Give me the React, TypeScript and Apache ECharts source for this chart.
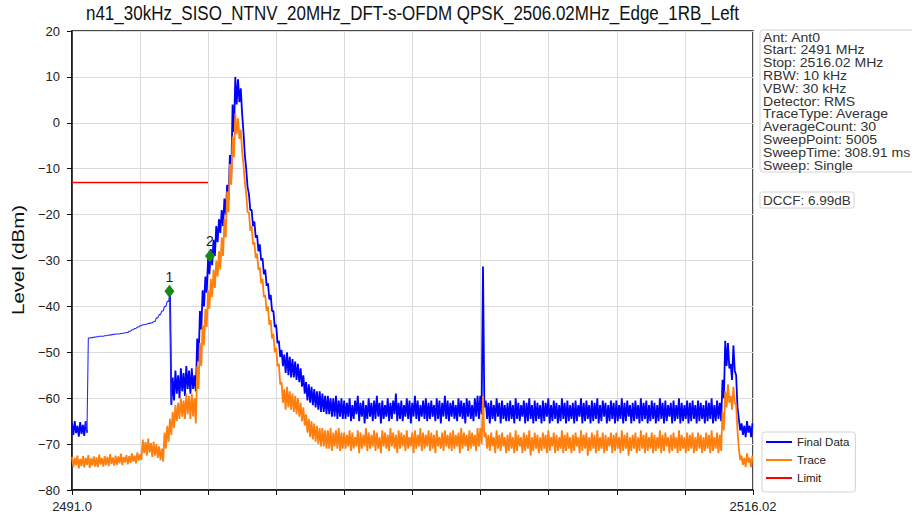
import React, { useEffect, useRef } from "react";
import * as echarts from "echarts";

const TITLE = "n41_30kHz_SISO_NTNV_20MHz_DFT-s-OFDM QPSK_2506.02MHz_Edge_1RB_Left";
const Y_NAME = "Level (dBm)";
const START_MHZ = 2491.0;
const STOP_MHZ = 2516.02;
const STEP_MHZ = 0.1;
const X_TICK_STEP_MHZ = 2.502;
const X_TICK_LABELS = ["2491.0", "2516.02"];
const Y_TICKS = [-80, -70, -60, -50, -40, -30, -20, -10, 0, 10, 20];

// Final Data (blue): upper / lower edge of the trace in each 0.1 MHz bin from 2491.0 MHz
const FINAL_MAX = [
  -65.5, -65.0, -66.0, -65.2, -65.8, -65.0, -46.9, -46.8, -46.7, -46.6,
  -46.5, -46.5, -46.4, -46.3, -46.2, -46.1, -46.0, -46.0, -45.9, -45.8,
  -45.7, -45.4, -45.1, -44.8, -44.5, -44.2, -44.0, -43.9, -43.7, -43.6,
  -43.3, -42.5, -41.8, -41.0, -40.0, -38.9, -36.7, -55.5, -54.0, -55.0,
  -53.5, -54.5, -53.0, -54.0, -53.5, -55.0, -47.0, -41.0, -36.5, -33.5,
  -29.5, -27.5, -25.5, -22.5, -21.0, -19.0, -16.5, -13.5, -7.0, 4.0,
  10.0, 9.5, 7.5, -2.0, -10.0, -15.5, -19.0, -21.5, -24.5, -26.5,
  -29.5, -32.0, -35.0, -37.5, -41.0, -44.0, -47.5, -49.5, -50.5, -50.0,
  -51.0, -51.5, -52.0, -52.5, -53.5, -55.0, -56.5, -57.0, -57.5, -58.0,
  -58.5, -58.5, -59.0, -59.5, -59.5, -60.0, -60.0, -59.5, -60.5, -60.0,
  -60.5, -61.0, -60.0, -61.5, -60.5, -59.5, -61.0, -60.5, -61.5, -60.0,
  -61.0, -60.5, -59.5, -61.0, -60.5, -61.5, -60.0, -61.0, -60.5, -59.0,
  -61.0, -60.5, -61.5, -60.0, -60.5, -61.0, -59.5, -60.5, -61.5, -60.5,
  -60.0, -61.0, -60.5, -61.5, -60.0, -60.5, -61.0, -59.5, -60.5, -61.0,
  -60.5, -61.5, -60.0, -60.5, -61.0, -60.0, -60.5, -61.5, -60.0, -59.5,
  -59.5, -31.3, -60.5, -61.0, -60.5, -61.5, -60.0, -61.0, -60.5, -61.5,
  -61.0, -60.5, -61.5, -60.0, -61.0, -61.5, -60.5, -61.0, -60.0, -61.5,
  -60.5, -61.0, -61.5, -60.5, -61.0, -60.0, -61.5, -60.5, -61.0, -61.5,
  -60.0, -61.0, -60.5, -61.5, -61.0, -60.5, -61.5, -60.0, -61.0, -60.5,
  -61.5, -60.5, -61.0, -60.0, -61.5, -60.5, -61.0, -61.5, -60.5, -61.0,
  -60.5, -61.5, -60.0, -61.0, -60.5, -61.5, -61.0, -60.5, -61.5, -60.0,
  -61.0, -60.5, -61.5, -60.5, -61.0, -61.5, -60.0, -61.0, -60.5, -61.5,
  -61.0, -60.5, -61.5, -60.0, -61.0, -61.5, -60.5, -61.0, -60.5, -61.5,
  -60.5, -61.0, -61.5, -60.5, -61.0, -60.0, -61.5, -60.5, -61.0, -56.0,
  -47.5, -48.0, -52.5, -48.5, -55.0, -64.5, -65.5, -66.0, -65.0, -66.0,
  -65.5,
];
const FINAL_MIN = [
  -68.0, -67.6, -68.4, -67.8, -68.2, -67.5, -46.9, -46.8, -46.7, -46.6,
  -46.5, -46.5, -46.4, -46.3, -46.2, -46.1, -46.0, -46.0, -45.9, -45.8,
  -45.7, -45.4, -45.1, -44.8, -44.5, -44.2, -44.0, -43.9, -43.7, -43.6,
  -43.3, -42.5, -41.8, -41.0, -40.0, -38.9, -61.5, -60.5, -59.0, -60.0,
  -58.5, -59.5, -58.0, -59.0, -58.0, -58.5, -52.0, -45.0, -40.0, -37.0,
  -33.0, -31.0, -29.0, -26.0, -24.0, -22.5, -20.0, -17.0, -12.0, -2.0,
  4.0, 4.5, 2.0, -7.0, -14.0, -19.0, -22.5, -25.0, -28.0, -30.0,
  -33.0, -35.5, -38.5, -41.0, -44.5, -48.0, -51.0, -53.0, -54.5, -55.0,
  -55.5, -55.5, -56.0, -56.5, -57.5, -59.0, -60.5, -61.0, -61.5, -62.0,
  -62.5, -63.0, -63.0, -63.5, -63.5, -64.0, -64.0, -64.5, -64.0, -64.5,
  -64.5, -64.0, -65.0, -64.5, -63.5, -65.0, -64.0, -65.5, -64.5, -64.0,
  -65.0, -64.5, -64.0, -65.5, -64.5, -64.0, -65.0, -64.5, -63.5, -65.0,
  -64.5, -65.0, -64.0, -64.5, -65.5, -64.0, -64.5, -65.0, -64.0, -64.5,
  -65.0, -64.5, -64.0, -65.0, -64.5, -65.5, -64.0, -64.5, -65.0, -64.0,
  -64.5, -65.0, -64.0, -64.5, -65.5, -64.0, -64.5, -65.0, -64.0, -64.5,
  -63.5, -62.0, -64.5, -65.5, -64.5, -65.0, -64.0, -65.5, -64.5, -65.0,
  -65.0, -64.5, -65.5, -64.5, -65.0, -64.0, -65.5, -65.0, -64.5, -65.5,
  -65.0, -64.5, -65.5, -65.0, -64.0, -65.5, -65.0, -64.5, -65.5, -65.0,
  -64.5, -65.5, -65.0, -64.5, -65.5, -65.0, -64.0, -65.5, -65.0, -64.5,
  -65.5, -65.0, -64.5, -65.5, -65.0, -64.0, -65.5, -65.0, -64.5, -65.5,
  -65.0, -64.5, -65.5, -65.0, -64.0, -65.5, -65.0, -64.5, -65.5, -65.0,
  -64.5, -65.5, -65.0, -64.5, -65.5, -65.0, -64.5, -65.5, -65.0, -64.0,
  -65.5, -65.0, -64.5, -65.5, -65.0, -64.5, -65.5, -65.0, -64.5, -65.5,
  -65.0, -64.5, -65.5, -65.0, -64.5, -65.5, -65.0, -64.5, -65.0, -60.0,
  -53.0, -53.5, -56.0, -54.0, -62.0, -67.0, -68.0, -68.5, -67.5, -68.5,
  -68.0,
];

// Trace (orange): upper / lower edge in each 0.1 MHz bin
const TRACE_MAX = [
  -72.8, -73.0, -72.5, -73.2, -72.6, -73.0, -72.4, -73.1, -72.7, -72.9,
  -72.3, -73.0, -72.6, -72.8, -72.2, -72.9, -72.5, -72.7, -72.1, -72.8,
  -72.4, -72.6, -72.0, -72.5, -71.8, -72.2, -69.0, -69.5, -68.8, -69.8,
  -69.5, -70.0, -70.5, -71.0, -67.5, -66.0, -64.5, -63.0, -61.5, -61.0,
  -60.0, -60.5, -59.0, -59.5, -59.0, -60.0, -53.0, -48.0, -44.0, -40.5,
  -36.5, -34.0, -32.0, -30.0, -28.0, -25.0, -21.0, -15.0, -9.0, -3.0,
  2.0, 1.0, -1.5, -9.0, -15.5, -19.5, -22.5, -26.0, -28.5, -31.5,
  -34.0, -37.5, -40.0, -43.0, -46.0, -49.0, -52.5, -56.5, -58.0, -57.5,
  -58.5, -59.0, -59.5, -60.0, -61.0, -62.0, -63.5, -64.5, -65.0, -65.5,
  -66.0, -66.5, -66.5, -67.0, -67.0, -66.5, -67.5, -67.0, -66.5, -67.5,
  -67.5, -68.0, -67.0, -67.5, -68.5, -67.0, -67.5, -68.0, -66.5, -67.5,
  -68.0, -67.0, -67.5, -68.5, -67.0, -67.5, -68.0, -66.5, -67.5, -68.0,
  -67.0, -67.5, -68.0, -67.0, -68.5, -67.5, -67.0, -68.0, -66.5, -67.5,
  -68.0, -67.0, -67.5, -68.0, -67.0, -68.5, -67.5, -67.0, -68.0, -67.5,
  -67.0, -68.0, -67.5, -66.5, -67.5, -68.0, -67.0, -67.5, -68.0, -66.5,
  -66.5, -59.5, -67.5, -68.0, -67.5, -68.5, -67.0, -68.0, -67.5, -68.5,
  -68.0, -67.5, -68.5, -67.0, -68.0, -68.5, -67.5, -68.0, -67.0, -68.5,
  -67.5, -68.0, -68.5, -67.5, -68.0, -67.0, -68.5, -67.5, -68.0, -68.5,
  -67.0, -68.0, -67.5, -68.5, -68.0, -67.5, -68.5, -67.0, -68.0, -67.5,
  -68.5, -67.5, -68.0, -67.0, -68.5, -67.5, -68.0, -68.5, -67.5, -68.0,
  -67.5, -68.5, -67.0, -68.0, -67.5, -68.5, -68.0, -67.5, -68.5, -67.0,
  -68.0, -67.5, -68.5, -67.5, -68.0, -68.5, -67.0, -68.0, -67.5, -68.5,
  -68.0, -67.5, -68.5, -67.0, -68.0, -68.5, -67.5, -68.0, -67.5, -68.5,
  -67.5, -68.0, -68.5, -67.5, -68.0, -67.0, -68.5, -67.5, -68.0, -63.0,
  -58.5, -57.0, -59.5, -57.5, -61.5, -71.0, -72.5, -73.0, -72.0, -73.0,
  -72.5,
];
const TRACE_MIN = [
  -75.0, -74.6, -75.3, -74.8, -75.1, -74.5, -75.2, -74.7, -74.9, -75.0,
  -74.4, -74.9, -74.6, -74.8, -74.3, -74.7, -74.5, -74.2, -74.6, -74.0,
  -74.4, -74.1, -73.8, -74.2, -73.6, -73.5, -72.0, -72.5, -71.8, -72.8,
  -72.5, -73.0, -73.5, -73.8, -71.0, -69.5, -68.0, -66.5, -65.0, -64.5,
  -64.0, -64.5, -63.5, -64.5, -64.0, -65.5, -58.0, -53.0, -48.5, -44.5,
  -40.5, -38.0, -36.0, -33.5, -32.0, -29.0, -25.0, -19.5, -13.5, -7.5,
  -2.5, -3.5, -6.0, -13.0, -19.5, -23.5, -26.5, -29.5, -32.0, -35.0,
  -38.0, -41.0, -44.0, -47.0, -50.0, -53.0, -57.0, -61.0, -62.5, -62.0,
  -62.5, -63.0, -63.5, -64.0, -65.0, -66.0, -67.5, -68.5, -69.0, -69.5,
  -70.0, -70.5, -70.5, -71.0, -71.0, -71.5, -70.5, -71.0, -71.5, -71.0,
  -71.0, -70.5, -71.5, -71.0, -70.5, -72.0, -71.0, -70.5, -71.5, -71.0,
  -70.5, -71.5, -71.0, -72.0, -70.5, -71.0, -71.5, -70.5, -71.0, -72.0,
  -71.0, -70.5, -71.5, -71.0, -70.5, -72.0, -71.0, -70.5, -71.5, -71.0,
  -70.5, -71.5, -71.0, -72.0, -70.5, -71.0, -71.5, -70.5, -71.0, -71.5,
  -71.0, -70.5, -72.0, -71.0, -70.5, -71.5, -71.0, -70.5, -71.5, -70.5,
  -70.0, -68.5, -71.0, -71.5, -70.5, -72.0, -71.0, -71.5, -70.5, -72.0,
  -71.5, -71.0, -72.0, -71.5, -70.5, -72.0, -71.5, -71.0, -72.5, -71.5,
  -71.0, -72.0, -71.5, -71.0, -72.0, -71.5, -70.5, -72.0, -71.5, -71.0,
  -72.0, -71.5, -71.0, -72.0, -71.5, -70.5, -72.0, -71.5, -71.0, -72.5,
  -71.5, -71.0, -72.0, -71.5, -71.0, -72.0, -71.5, -70.5, -72.0, -71.5,
  -71.0, -72.0, -71.5, -71.0, -72.5, -71.5, -71.0, -72.0, -71.5, -71.0,
  -72.0, -71.5, -71.0, -72.0, -71.5, -71.0, -72.0, -71.5, -70.5, -72.0,
  -71.5, -71.0, -72.0, -71.5, -71.0, -72.0, -71.5, -71.0, -72.0, -71.5,
  -71.0, -72.0, -71.5, -71.0, -72.0, -71.5, -71.0, -72.0, -71.5, -67.0,
  -62.0, -61.0, -62.5, -61.0, -67.0, -73.5, -74.5, -75.0, -74.0, -75.0,
  -74.5,
];

const LIMIT_FREQS = [2491.0, 2496.0];
const LIMIT_LEVELS = [-13, -13];

const MARKER_FREQS = [2494.58, 2496.07];
const MARKER_LEVELS = [-36.7, -29.0];
const MARKER_LABELS = ["1", "2"];

const INFO_LINES = [
  "Ant: Ant0",
  "Start: 2491 MHz",
  "Stop: 2516.02 MHz",
  "RBW: 10 kHz",
  "VBW: 30 kHz",
  "Detector: RMS",
  "TraceType: Average",
  "AverageCount: 30",
  "SweepPoint: 5005",
  "SweepTime: 308.91 ms",
  "Sweep: Single",
];
const DCCF_TEXT = "DCCF: 6.99dB";

const FONT = "'Liberation Sans', Arial, Helvetica, sans-serif";

// Each bin drawn as its upper edge at the bin start and its lower edge half a bin later.
// keep(i) decides which bins a series draws (others become gaps).
function envelope(hi: number[], lo: number[], keep: (i: number) => boolean) {
  const pts: (number[] | null)[] = [];
  hi.forEach((h, i) => {
    const k = keep(i);
    pts.push(k ? [i * STEP_MHZ, h] : null);
    if (i < hi.length - 1) pts.push(k ? [i * STEP_MHZ + STEP_MHZ / 2, lo[i]] : null);
  });
  return pts.map((p) => (p ? p : "-"));
}

export default function App() {
  const ref = useRef<HTMLDivElement>(null);

  useEffect(() => {
    if (!ref.current) return;
    const chart = echarts.init(ref.current, null, { renderer: "svg" });
    const span = STOP_MHZ - START_MHZ;

    // bins where the blue trace is a single smooth value (drawn thin, as in the reference)
    const smooth = (i: number) => i >= 0 && i < FINAL_MAX.length && FINAL_MAX[i] === FINAL_MIN[i];
    const nearSmooth = (i: number) => smooth(i) || smooth(i - 1) || smooth(i + 1);

    const option: any = {
      animation: false,
      backgroundColor: "#ffffff",
      textStyle: { fontFamily: FONT },
      grid: {
        left: 72,
        right: 159,
        top: 31,
        bottom: 27,
        show: true,
        borderColor: "#111",
        borderWidth: 1.5,
        containLabel: false,
      },
      legend: {
        data: ["Final Data", "Trace", "Limit"],
        orient: "vertical",
        left: 762,
        top: 432,
        icon: "rect",
        itemWidth: 26,
        itemHeight: 2,
        itemGap: 6,
        padding: [4, 6, 8, 4],
        backgroundColor: "#fff",
        borderColor: "#d4d4d4",
        borderWidth: 1,
        borderRadius: 3,
        selectedMode: false,
        textStyle: { fontSize: 11.5, color: "#222", fontFamily: FONT },
      },
      xAxis: {
        type: "value",
        min: 0,
        max: span,
        interval: X_TICK_STEP_MHZ,
        axisLine: { show: true, onZero: false, lineStyle: { color: "#111", width: 1.5 } },
        axisTick: { show: true, length: 5, lineStyle: { color: "#111", width: 1 } },
        axisLabel: {
          fontSize: 13,
          color: "#222",
          margin: 10,
          fontFamily: FONT,
          showMinLabel: true,
          showMaxLabel: true,
          formatter: (v: number) => {
            if (Math.abs(v) < 1e-6) return X_TICK_LABELS[0];
            if (Math.abs(v - span) < 1e-6) return X_TICK_LABELS[1];
            return "";
          },
        },
        splitLine: { show: true, lineStyle: { color: "#dcdcdc", width: 1 } },
      },
      yAxis: {
        type: "value",
        min: Y_TICKS[0],
        max: Y_TICKS[Y_TICKS.length - 1],
        interval: Y_TICKS[1] - Y_TICKS[0],
        axisLine: { show: true, onZero: false, lineStyle: { color: "#111", width: 1.5 } },
        axisTick: { show: true, length: 5, lineStyle: { color: "#111", width: 1 } },
        axisLabel: {
          fontSize: 13,
          color: "#222",
          margin: 12,
          fontFamily: FONT,
          formatter: (v: number) => (v < 0 ? "\u2212" + Math.abs(v) : String(v)),
        },
        splitLine: { show: true, lineStyle: { color: "#dcdcdc", width: 1 } },
      },
      series: [
        {
          name: "Final Data",
          type: "line",
          data: envelope(FINAL_MAX, FINAL_MIN, (i) => !smooth(i)),
          symbol: "none",
          silent: true,
          connectNulls: false,
          lineStyle: { color: "#0000ff", width: 1.8 },
          itemStyle: { color: "#0000ff" },
          z: 2,
        },
        {
          name: "Final Data",
          type: "line",
          data: envelope(FINAL_MAX, FINAL_MIN, nearSmooth),
          symbol: "none",
          silent: true,
          connectNulls: false,
          lineStyle: { color: "#2a2aff", width: 1.1 },
          itemStyle: { color: "#0000ff" },
          z: 2,
        },
        {
          name: "Trace",
          type: "line",
          data: envelope(TRACE_MAX, TRACE_MIN, () => true),
          symbol: "none",
          silent: true,
          lineStyle: { color: "#ff7f0e", width: 1.8 },
          itemStyle: { color: "#ff7f0e" },
          z: 3,
        },
        {
          name: "Limit",
          type: "line",
          data: LIMIT_FREQS.map((f, i) => [f - START_MHZ, LIMIT_LEVELS[i]]),
          symbol: "none",
          silent: true,
          lineStyle: { color: "#ff0000", width: 1.6 },
          itemStyle: { color: "#ff0000" },
          z: 4,
        },
        {
          name: "Markers",
          type: "scatter",
          data: MARKER_FREQS.map((f, i) => [f - START_MHZ, MARKER_LEVELS[i]]),
          symbol: "diamond",
          symbolSize: [10, 13],
          silent: true,
          itemStyle: { color: "#138a13", opacity: 1 },
          label: {
            show: true,
            position: "top",
            distance: 1,
            fontSize: 14,
            color: "#222",
            fontFamily: FONT,
            formatter: (p: any) => MARKER_LABELS[p.dataIndex],
          },
          z: 5,
        },
      ],
      graphic: [
        {
          type: "text",
          x: 412.5,
          y: 13,
          scaleY: 1.15,
          style: {
            text: TITLE,
            fontSize: 17,
            fontFamily: FONT,
            fill: "#111",
            align: "center",
            verticalAlign: "middle",
          },
        },
        {
          type: "text",
          x: 18,
          y: 260,
          rotation: Math.PI / 2,
          scaleX: 1.2,
          style: {
            text: Y_NAME,
            fontSize: 17,
            fontFamily: FONT,
            fill: "#111",
            align: "center",
            verticalAlign: "middle",
          },
        },
        {
          type: "rect",
          shape: { x: 760, y: 30, width: 170, height: 142, r: 3 },
          style: { fill: "#fff", stroke: "#d4d4d4", lineWidth: 1 },
        },
        {
          type: "text",
          x: 763,
          y: 31,
          scaleX: 1.1,
          style: {
            text: INFO_LINES.join("\n"),
            fontSize: 12.8,
            lineHeight: 12.8,
            fontFamily: FONT,
            fill: "#333",
            align: "left",
            verticalAlign: "top",
          },
        },
        {
          type: "rect",
          shape: { x: 760, y: 192, width: 94, height: 16, r: 2 },
          style: { fill: "#fff", stroke: "#d4d4d4", lineWidth: 1 },
        },
        {
          type: "text",
          x: 763,
          y: 200,
          style: {
            text: DCCF_TEXT,
            fontSize: 13.5,
            fontFamily: FONT,
            fill: "#333",
            align: "left",
            verticalAlign: "middle",
          },
        },
      ],
    };

    chart.setOption(option);
    return () => chart.dispose();
  }, []);

  return (
    <div
      ref={ref}
      style={{ position: "absolute", left: 0, top: 0, width: 912, height: 517, background: "#fff" }}
    />
  );
}
